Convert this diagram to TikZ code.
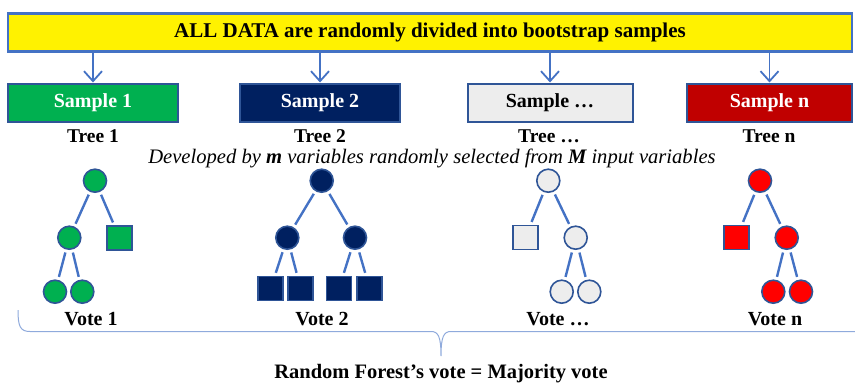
\documentclass[tikz,border=0pt]{standalone}
\usepackage{fontspec}
\setmainfont{Liberation Serif}
\usetikzlibrary{arrows.meta}
\definecolor{edgeblue}{HTML}{4472C4}
\definecolor{bord}{HTML}{2F5597}
\definecolor{cgreen}{HTML}{00B050}
\definecolor{cnavy}{HTML}{002060}
\definecolor{cgray}{HTML}{EDEDED}
\definecolor{cdred}{HTML}{C00000}
\definecolor{cred}{HTML}{FF0000}
\definecolor{bracecol}{HTML}{8FAADC}
\begin{document}
\begin{tikzpicture}[x=1pt,y=-1pt,
  topbox/.style={draw=edgeblue, line width=2.2pt, fill=yellow, minimum width=844pt, minimum height=38pt, inner sep=0pt, font=\fontsize{21}{25}\selectfont\bfseries},
  sbox/.style={draw=bord, line width=2pt, minimum height=38pt, inner sep=0pt, font=\fontsize{20}{24}\selectfont\bfseries},
  lab/.style={inner sep=0pt, font=\fontsize{19.5}{23}\selectfont\bfseries},
  vote/.style={inner sep=0pt, font=\fontsize{20}{24}\selectfont\bfseries},
  circ/.style={circle, draw=bord, line width=1.6pt, minimum size=23pt, inner sep=0pt},
  sq/.style={rectangle, draw=bord, line width=1.6pt, minimum width=25pt, minimum height=24pt, inner sep=0pt},
  edg/.style={draw=edgeblue, line width=2.4pt, shorten >=3pt, shorten <=3pt},
  arr/.style={draw=edgeblue, line width=1.8pt, -{Straight Barb[length=10pt,width=18pt]}}
]
\useasboundingbox (0,0) rectangle (855,386);

% top box
\node[topbox] (top) at (430,32.5) {ALL DATA are randomly divided into bootstrap samples};

% sample boxes
\node[sbox, fill=cgreen, text=white, minimum width=170pt] (s1) at (93,102.5) {Sample 1};
\node[sbox, fill=cnavy, text=white, minimum width=160pt] (s2) at (320,102.5) {Sample 2};
\node[sbox, fill=cgray, text=black, minimum width=165pt] (s3) at (550,102.5) {Sample \dots};
\node[sbox, fill=cdred, text=white, minimum width=165pt] (s4) at (769.5,102.5) {Sample n};

\draw[arr] (top.south -| s1.north) -- (s1.north);
\draw[arr] (top.south -| s2.north) -- (s2.north);
\draw[arr] (top.south -| s3.north) -- (s3.north);
\draw[arr] (top.south -| s4.north) -- (s4.north);

% tree labels
\node[lab] (tl1) at (93,136) {Tree 1};
\node[lab] (tl2) at (320,136) {Tree 2};
\node[lab] (tl3) at (549,136) {Tree \dots};
\node[lab] (tl4) at (769,136) {Tree n};

\node[inner sep=0pt, font=\fontsize{20.6}{24}\selectfont\itshape] (dev) at (432,158)
  {Developed by \textbf{m} variables randomly selected from \textbf{M} input variables};

% tree 1
\node[circ, fill=cgreen] (a0) at (95,180.7) {};
\node[circ, fill=cgreen] (a1) at (69.3,237.7) {};
\node[sq, fill=cgreen] (a2) at (119.7,238) {};
\node[circ, fill=cgreen] (a3) at (55,291.7) {};
\node[circ, fill=cgreen] (a4) at (82.3,291.7) {};
\draw[edg] (a0) -- (a1);
\draw[edg] (a0) -- (a2);
\draw[edg] (a1) -- (a3);
\draw[edg] (a1) -- (a4);

% tree 2
\node[circ, fill=cnavy] (b0) at (321.7,180.7) {};
\node[circ, fill=cnavy] (b1) at (287.3,237.7) {};
\node[circ, fill=cnavy] (b2) at (355,237.7) {};
\node[sq, fill=cnavy] (b3) at (270.7,288.5) {};
\node[sq, fill=cnavy] (b4) at (300.7,288.5) {};
\node[sq, fill=cnavy] (b5) at (339,288.5) {};
\node[sq, fill=cnavy] (b6) at (369.7,288.5) {};
\draw[edg] (b0) -- (b1);
\draw[edg] (b0) -- (b2);
\draw[edg] (b1) -- (b3);
\draw[edg] (b1) -- (b4);
\draw[edg] (b2) -- (b5);
\draw[edg] (b2) -- (b6);

% tree 3
\node[circ, fill=cgray] (c0) at (548.3,180.7) {};
\node[sq, fill=cgray] (c1) at (525.3,237.5) {};
\node[circ, fill=cgray] (c2) at (575.7,237.7) {};
\node[circ, fill=cgray] (c3) at (561.7,291.7) {};
\node[circ, fill=cgray] (c4) at (589.3,291.7) {};
\draw[edg] (c0) -- (c1);
\draw[edg] (c0) -- (c2);
\draw[edg] (c2) -- (c3);
\draw[edg] (c2) -- (c4);

% tree n
\node[circ, fill=cred] (d0) at (760,180.7) {};
\node[sq, fill=cred] (d1) at (736.7,237.5) {};
\node[circ, fill=cred] (d2) at (786.7,237.7) {};
\node[circ, fill=cred] (d3) at (773.3,291.7) {};
\node[circ, fill=cred] (d4) at (801,291.7) {};
\draw[edg] (d0) -- (d1);
\draw[edg] (d0) -- (d2);
\draw[edg] (d2) -- (d3);
\draw[edg] (d2) -- (d4);

% votes
\node[vote] (v1) at (91,319) {Vote 1};
\node[vote] (v2) at (322,319) {Vote 2};
\node[vote] (v3) at (558,319) {Vote \dots};
\node[vote] (v4) at (775,319) {Vote n};

% brace
\draw[bracecol, line width=1pt] (18,310) .. controls (18,326) and (20,331.5) .. (30,331.5)
  -- (431,331.5) .. controls (438,331.5) and (441,336) .. (441,356)
  .. controls (441,336) and (444,331.5) .. (451,331.5) -- (855,331.5);

\node[inner sep=0pt, font=\fontsize{20.5}{24}\selectfont\bfseries] (rf) at (441,374)
  {Random Forest’s vote = Majority vote};
\end{tikzpicture}
\end{document}
